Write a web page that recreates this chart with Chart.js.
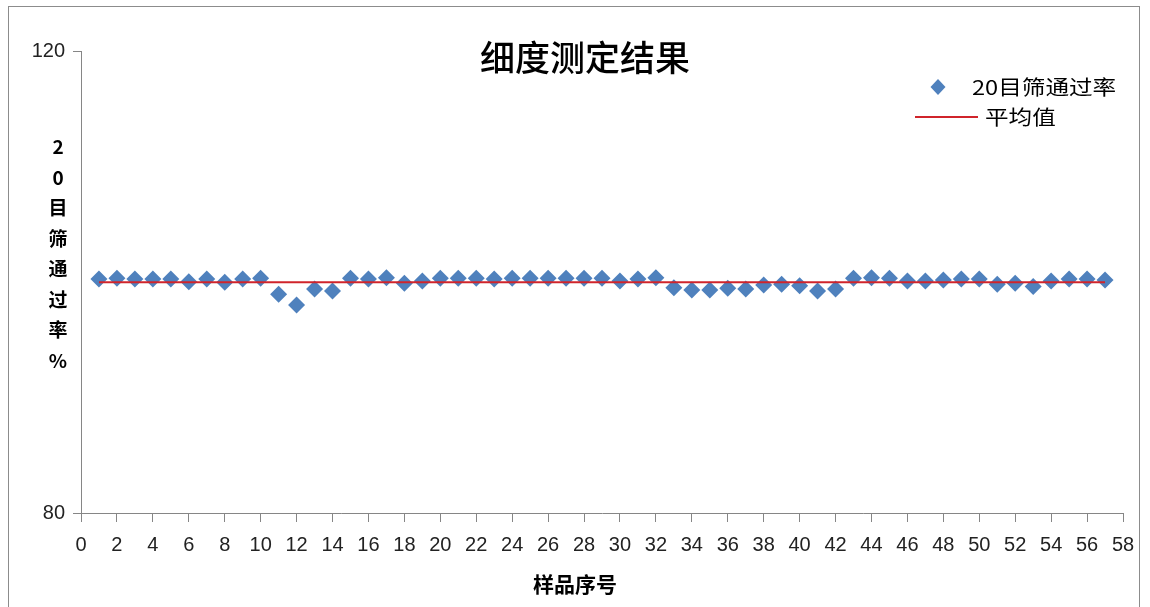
<!DOCTYPE html>
<html>
<head>
<meta charset="utf-8">
<script src="https://cdn.jsdelivr.net/npm/chart.js@4/dist/chart.umd.min.js"></script>
<style>
  body { margin: 0; background: #fff; }
  #wrap { position: relative; width: 1150px; height: 607px; overflow: hidden; }
  #frame { position: absolute; left: 8px; top: 6px; width: 1132px; height: 640px; border: 1px solid #8c8c8c; box-sizing: border-box; }
  canvas { position: absolute; left: 0; top: 0; }
  .cjk { font-family: "Noto Sans CJK SC", sans-serif; color: #000; position: absolute; white-space: nowrap; }
  #title { left: 0; width: 1170px; top: 34px; text-align: center; font-size: 35px; line-height: 44px; font-weight: 500; }
  #ytitle { left: 45px; width: 26px; top: 131px; text-align: center; font-size: 19px; line-height: 30.5px; font-weight: bold; }
  #xtitle { left: 0; width: 1150px; top: 568px; text-align: center; font-size: 21px; line-height: 30px; font-weight: bold; }
  .leg { font-size: 20px; line-height: 26px; transform-origin: left center; transform: scaleX(1.18); }
</style>
</head>
<body>
<div id="wrap">
  <div id="frame"></div>
  <canvas id="chart" width="1150" height="607"></canvas>
  <div id="title" class="cjk">细度测定结果</div>
  <div id="ytitle" class="cjk">2<br>0<br>目<br>筛<br>通<br>过<br>率<br>%</div>
  <div id="xtitle" class="cjk">样品序号</div>
  <div class="cjk leg" style="left:972px; top:74px;">20目筛通过率</div>
  <div class="cjk leg" style="left:985px; top:104px;">平均值</div>
</div>
<script>
// sample numbers 1..57 and the measured pass rate (%) through the 20-mesh sieve
const sampleNo = [
   1,  2,  3,  4,  5,  6,  7,  8,  9, 10, 11, 12, 13, 14, 15, 16, 17, 18, 19,
  20, 21, 22, 23, 24, 25, 26, 27, 28, 29, 30, 31, 32, 33, 34, 35, 36, 37, 38,
  39, 40, 41, 42, 43, 44, 45, 46, 47, 48, 49, 50, 51, 52, 53, 54, 55, 56, 57
];
const passRate = [
  100.26, 100.32, 100.26, 100.26, 100.26, 100.03, 100.26,  99.97, 100.26, 100.32,
   98.93,  98.01,  99.39,  99.22, 100.32, 100.26, 100.37,  99.89, 100.09, 100.32,
  100.32, 100.32, 100.26, 100.32, 100.32, 100.32, 100.32, 100.32, 100.32, 100.09,
  100.26, 100.37,  99.51,  99.31,  99.31,  99.45,  99.39,  99.74,  99.80,  99.68,
   99.22,  99.39, 100.32, 100.37, 100.32, 100.09, 100.09, 100.17, 100.26, 100.26,
   99.80,  99.89,  99.60, 100.09, 100.26, 100.26, 100.17
];
const averageRate = 99.97;
const seriesNames = ['20目筛通过率', '平均值'];

const blue = '#4F81BD';
const red = '#D0242B';
const axisGrey = '#868686';

// legend markers drawn on the canvas next to the html legend text
const legendMarks = {
  id: 'legendMarks',
  afterDraw(chart) {
    const c = chart.ctx;
    c.save();
    c.fillStyle = blue;
    c.beginPath();
    c.moveTo(938, 79); c.lineTo(945.5, 87); c.lineTo(938, 95); c.lineTo(930.5, 87);
    c.closePath();
    c.fill();
    c.strokeStyle = red;
    c.lineWidth = 2;
    c.beginPath();
    c.moveTo(915, 117); c.lineTo(978, 117);
    c.stroke();
    c.restore();
  }
};

const points = sampleNo.map((n, i) => ({ x: n, y: passRate[i] }));
const avgLine = [
  { x: sampleNo[0], y: averageRate },
  { x: sampleNo[sampleNo.length - 1], y: averageRate }
];

new Chart(document.getElementById('chart'), {
  type: 'scatter',
  data: {
    datasets: [
      {
        label: seriesNames[0],
        data: points,
        pointStyle: 'rectRot',
        pointRadius: 8.5,
        pointBackgroundColor: blue,
        pointBorderWidth: 0,
        order: 1
      },
      {
        label: seriesNames[1],
        type: 'line',
        data: avgLine,
        borderColor: red,
        borderWidth: 2,
        pointRadius: 0,
        fill: false,
        order: 0
      }
    ]
  },
  options: {
    responsive: false,
    animation: false,
    layout: { padding: { left: 0, right: 27, top: 51, bottom: 0 } },
    plugins: { legend: { display: false }, tooltip: { enabled: false } },
    scales: {
      x: {
        type: 'linear',
        min: 0,
        max: 58,
        ticks: { stepSize: 2, color: '#222', padding: 11, font: { family: 'Liberation Sans', size: 20 } },
        grid: { drawOnChartArea: false, color: axisGrey, tickLength: 9 },
        border: { color: axisGrey, width: 1 },
        afterFit(scale) { scale.height = 94; }
      },
      y: {
        min: 80,
        max: 120,
        ticks: { stepSize: 40, color: '#222', padding: 8, font: { family: 'Liberation Sans', size: 20 } },
        grid: { drawOnChartArea: false, color: axisGrey, tickLength: 8 },
        border: { color: axisGrey, width: 1 },
        afterFit(scale) { scale.width = 81; }
      }
    }
  },
  plugins: [legendMarks]
});
</script>
</body>
</html>
